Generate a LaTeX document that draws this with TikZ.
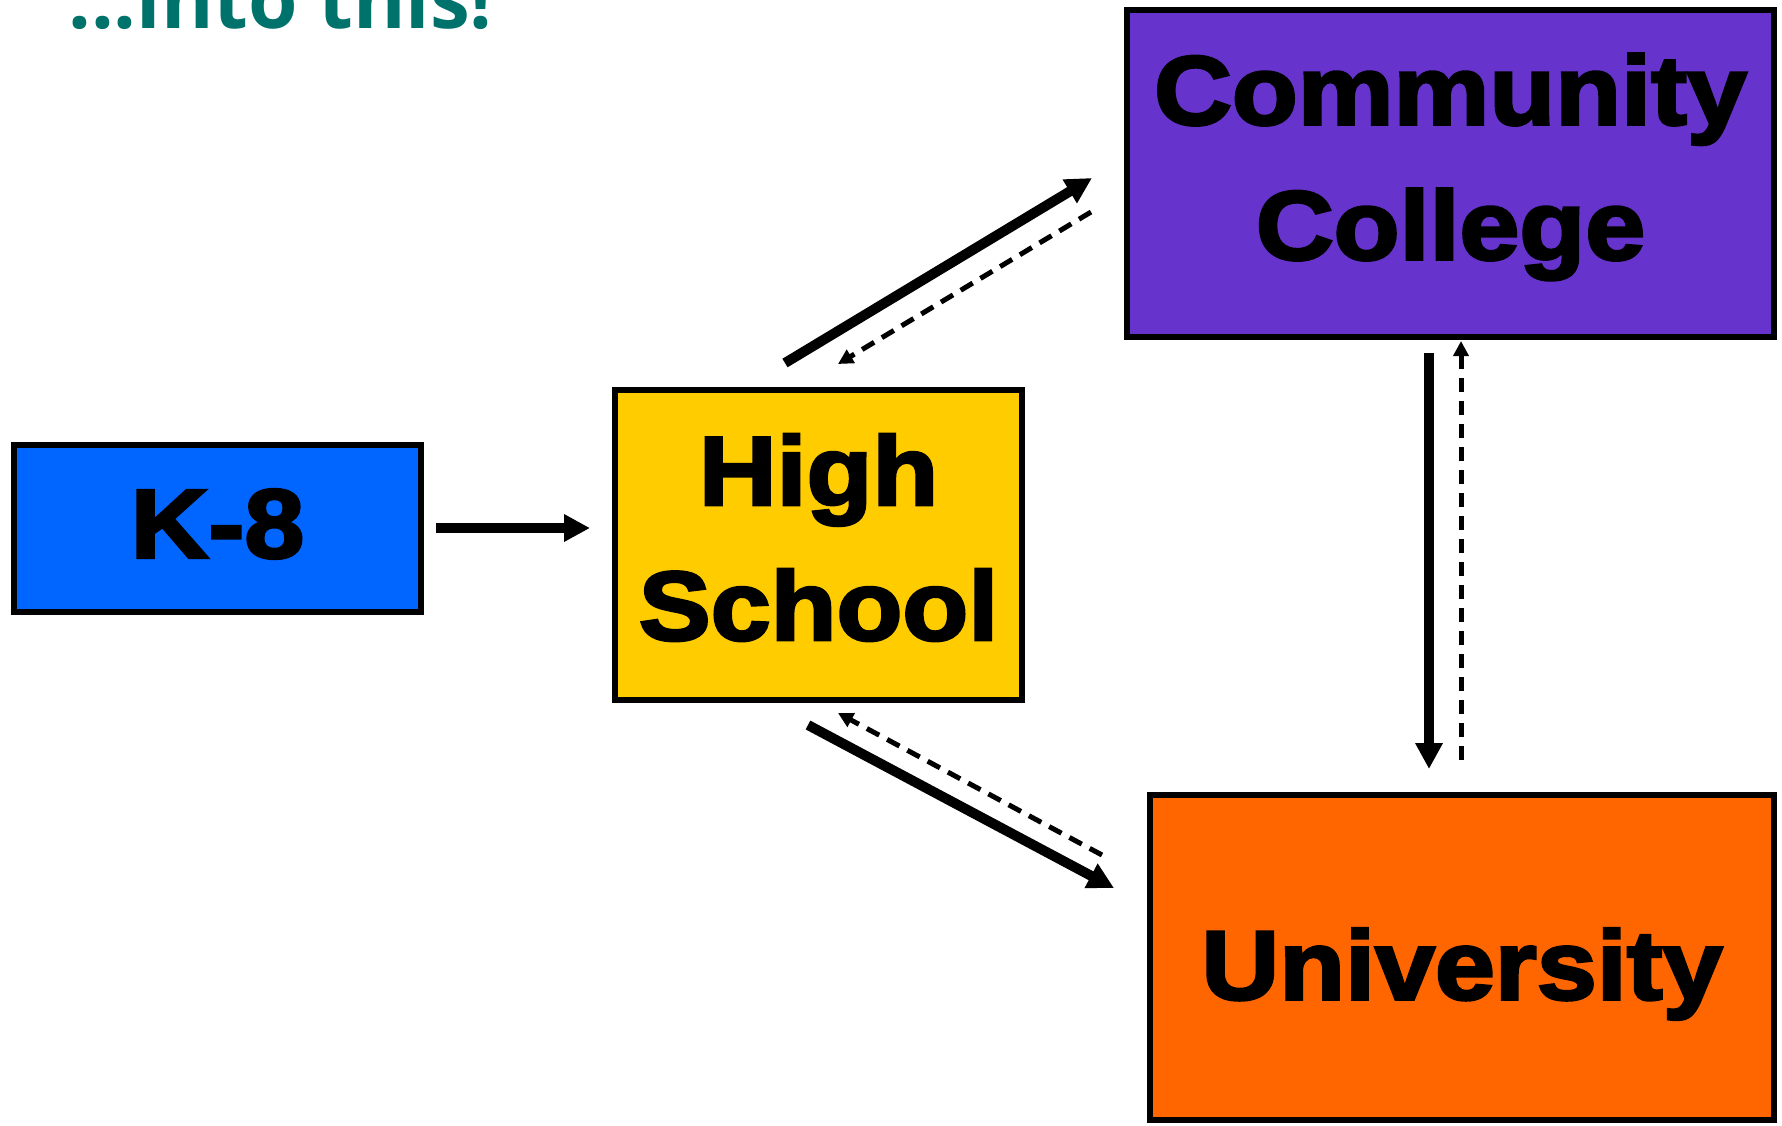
\documentclass[tikz,border=0pt]{standalone}
\usepackage{fontspec}
\usetikzlibrary{arrows.meta}
\newfontfamily\heavy{Liberation Sans Bold}[FakeBold=3, FakeStretch=1.10]
\newfontfamily\titlefont{Open Sans}
\definecolor{kblue}{RGB}{0,102,255}
\definecolor{hsyellow}{RGB}{255,204,0}
\definecolor{ccpurple}{RGB}{102,51,204}
\definecolor{uorange}{RGB}{255,102,0}
\definecolor{titleteal}{RGB}{0,114,108}
\tikzset{
  box/.style={draw=black, line width=6.5pt, rectangle, inner sep=0pt, align=center,
    font=\heavy\fontsize{98}{135}\selectfont, text=black},
  solidarrow/.style={line width=10pt, -{Triangle[length=26pt,width=26pt]}},
  dasharrow/.style={line width=5pt, dash pattern=on 14pt off 9pt, -{Triangle[length=15pt,width=15pt]}}
}
\begin{document}
\begin{tikzpicture}[x=1pt,y=-1pt]
\useasboundingbox[fill=white] (0,0) rectangle (1782,1125);
\node[anchor=base west, font=\titlefont\bfseries\fontsize{80}{90}\selectfont, text=titleteal, inner sep=0pt] (title) at (68,28) {...into this!};

\node[box, fill=kblue, minimum width=407pt, minimum height=167pt, text depth=10pt] (k8) at (217.5,528.5) {K-8};
\node[box, fill=hsyellow, minimum width=407pt, minimum height=310pt, text depth=16pt] (hs) at (818.5,545) {High\\School};
\node[box, fill=ccpurple, minimum width=647pt, minimum height=327pt, text depth=34pt] (cc) at (1450.5,173.5) {Community\\College};
\node[box, fill=uorange, minimum width=624pt, minimum height=325pt, text height=104pt] (uni) at (1462,957.5) {University};

% arrow end points
\coordinate (k8out) at (436,528);
\coordinate (hsin) at (590,528);
\coordinate (hsA) at (785,363);
\coordinate (ccA) at (1092,178);
\coordinate (ccB) at (1091,212);
\coordinate (hsB) at (838,364);
\coordinate (hsC) at (808,725);
\coordinate (uniC) at (1114,888);
\coordinate (uniD) at (1102,855);
\coordinate (hsD) at (838,713);
\coordinate (ccE) at (1429,353);
\coordinate (uniE) at (1429,769);
\coordinate (uniF) at (1461,760);
\coordinate (ccF) at (1461,341);

\draw[solidarrow] (k8out) -- (hsin);
\draw[solidarrow] (hsA) -- (ccA);
\draw[dasharrow] (ccB) -- (hsB);
\draw[solidarrow] (hsC) -- (uniC);
\draw[dasharrow] (uniD) -- (hsD);
\draw[solidarrow] (ccE) -- (uniE);
\draw[dasharrow] (uniF) -- (ccF);
\end{tikzpicture}
\end{document}
